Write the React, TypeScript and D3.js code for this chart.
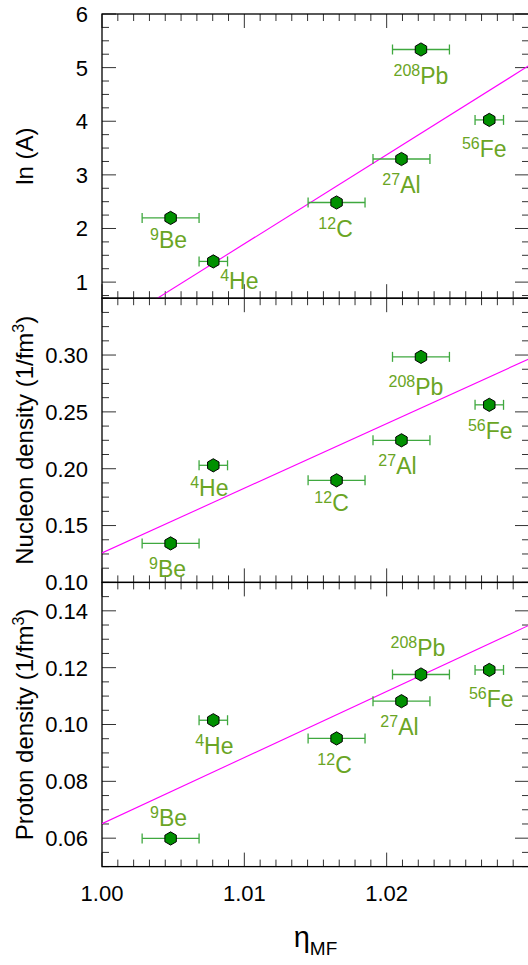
import React from "react";
import * as d3 from "d3";

// ---------- data ----------
const massNumbers = [4, 9, 12, 27, 56, 208];
const symbols = ["He", "Be", "C", "Al", "Fe", "Pb"];
const etaMF = [1.00782, 1.00482, 1.01648, 1.02104, 1.02721, 1.02241];
const etaErr = [0.001, 0.002, 0.002, 0.002, 0.001, 0.002];
const lnA = [1.386, 2.197, 2.485, 3.296, 4.025, 5.338];
const nucleonDensity = [0.203, 0.1343, 0.1898, 0.225, 0.2562, 0.2984];
const protonDensity = [0.1015, 0.0599, 0.0951, 0.1082, 0.1192, 0.1176];
const fitIntercepts = [0.052, 0.1259, 0.0651];
const fitSlopes = [166.2, 5.69, 2.327];

const xDomain: [number, number] = [1.0, 1.03];
const xMajorTicks = [1.0, 1.01, 1.02];
const xTickLabels = ["1.00", "1.01", "1.02"];

const yDomains: [number, number][] = [
  [0.7, 6],
  [0.1, 0.35],
  [0.05, 0.15],
];
const yMajorTicks = [
  [1, 2, 3, 4, 5, 6],
  [0.1, 0.15, 0.2, 0.25, 0.3],
  [0.06, 0.08, 0.1, 0.12, 0.14],
];
const yTickLabels = [
  ["1", "2", "3", "4", "5", "6"],
  ["0.10", "0.15", "0.20", "0.25", "0.30"],
  ["0.06", "0.08", "0.10", "0.12", "0.14"],
];
const yMinorSteps = [0.25, 0.0125, 0.005];
const yTitles = ["ln (A)", "Nucleon density (1/fm", "Proton density (1/fm"];
const yTitleSup = ["", "3", "3"];

// ---------- layout (label offsets in px relative to the marker) ----------
const labelDx = [
  [26, -2, -1, 0, -5, 0],
  [-4, -3, -5, -4, 1, -5],
  [1, -2, -2, -2, 2, -3],
];
const labelDy = [
  [28, 30, 35, 34, 37, 35],
  [31, 34, 31, 34, 34, 38],
  [34, -12, 35, 34, 37, -18],
];

const W = 528;
const H = 965;
const LEFT = 102;
const RIGHT = 529;
const PANEL_TOPS = [14, 298.2, 582.4];
const PANEL_H = 284.2;
const FONT = "'Liberation Sans', Arial, Helvetica, sans-serif";
const LABEL_COLOR = "#6aa524";
const ERR_COLOR = "#3fa83f";
const MARKER_FILL = "#009000";
const FIT_COLOR = "#ff00ff";
const TICK_COLOR = "#333";

const panelValues = [lnA, nucleonDensity, protonDensity];

function hexPath(cx: number, cy: number, r: number) {
  const pts: [number, number][] = [];
  for (let i = 0; i < 6; i++) {
    const a = -Math.PI / 2 + (i * Math.PI) / 3;
    pts.push([cx + r * Math.cos(a), cy + r * Math.sin(a)]);
  }
  return d3.line()(pts.concat([pts[0]])) + "Z";
}

function Panel({ idx, x }: { idx: number; x: d3.ScaleLinear<number, number> }) {
  const top = PANEL_TOPS[idx];
  const bottom = top + PANEL_H;
  const y = d3.scaleLinear().domain(yDomains[idx]).range([bottom, top]);
  const vals = panelValues[idx];
  const [y0, y1] = yDomains[idx];
  const minorStep = yMinorSteps[idx];
  const yMinor: number[] = [];
  for (let v = Math.ceil(y0 / minorStep - 1e-9) * minorStep; v <= y1 + 1e-9; v += minorStep) {
    const vv = Math.round(v / minorStep) * minorStep;
    if (!yMajorTicks[idx].some((m) => Math.abs(m - vv) < 1e-9)) yMinor.push(vv);
  }
  const xMinorStep = 0.01 / 9;
  const xMinor: number[] = [];
  for (let k = 0; k <= 27; k++) {
    if (k % 9 !== 0) xMinor.push(1.0 + k * xMinorStep);
  }
  const clipId = `clip${idx}`;
  const fx0 = xDomain[0];
  const fx1 = xDomain[1];
  const fitY = (e: number) => fitIntercepts[idx] + fitSlopes[idx] * (e - 1);
  const MAJ = 14;
  const MIN = 7;
  const midY = (top + bottom) / 2;

  return (
    <g>
      <defs>
        <clipPath id={clipId}>
          <rect x={LEFT} y={top} width={RIGHT - LEFT} height={PANEL_H} />
        </clipPath>
      </defs>
      {/* ticks */}
      <g stroke={TICK_COLOR} strokeWidth={1}>
        {yMajorTicks[idx].map((v, i) => (
          <g key={"ym" + i}>
            <line x1={LEFT} x2={LEFT + MAJ} y1={y(v)} y2={y(v)} />
            <line x1={RIGHT} x2={RIGHT - MAJ} y1={y(v)} y2={y(v)} />
          </g>
        ))}
        {yMinor.map((v, i) => (
          <g key={"yn" + i}>
            <line x1={LEFT} x2={LEFT + MIN} y1={y(v)} y2={y(v)} />
            <line x1={RIGHT} x2={RIGHT - MIN} y1={y(v)} y2={y(v)} />
          </g>
        ))}
        {xMajorTicks.map((v, i) => (
          <g key={"xm" + i}>
            <line x1={x(v)} x2={x(v)} y1={top} y2={top + MAJ} />
            <line x1={x(v)} x2={x(v)} y1={bottom} y2={bottom - MAJ} />
          </g>
        ))}
        {xMinor.map((v, i) => (
          <g key={"xn" + i}>
            <line x1={x(v)} x2={x(v)} y1={top} y2={top + MIN} />
            <line x1={x(v)} x2={x(v)} y1={bottom} y2={bottom - MIN} />
          </g>
        ))}
      </g>
      {/* frame */}
      <rect x={LEFT} y={top} width={RIGHT - LEFT} height={PANEL_H} fill="none" stroke="#000" strokeWidth={1.3} />
      {/* y tick labels */}
      {yMajorTicks[idx].map((v, i) => (
        <text
          key={"yl" + i}
          x={LEFT - 14}
          y={y(v)}
          dy="0.36em"
          textAnchor="end"
          fontSize={22}
          fontFamily={FONT}
          fill="#000"
        >
          {yTickLabels[idx][i]}
        </text>
      ))}
      {/* y title */}
      <text
        transform={`translate(24,${midY}) rotate(-90)`}
        textAnchor="middle"
        dy="0.36em"
        fontSize={24}
        fontFamily={FONT}
        fill="#000"
      >
        {yTitles[idx]}
        {yTitleSup[idx] ? (
          <>
            <tspan fontSize={16} dy={-9}>
              {yTitleSup[idx]}
            </tspan>
            <tspan dy={9}>)</tspan>
          </>
        ) : null}
      </text>
      {/* fit line */}
      <g clipPath={`url(#${clipId})`}>
        <line x1={x(fx0)} y1={y(fitY(fx0))} x2={x(fx1)} y2={y(fitY(fx1))} stroke={FIT_COLOR} strokeWidth={1.1} />
      </g>
      {/* error bars + markers */}
      {etaMF.map((e, i) => {
        const py = y(vals[i]);
        const xl = x(e - etaErr[i]);
        const xr = x(e + etaErr[i]);
        return (
          <g key={"pt" + i}>
            <g stroke={ERR_COLOR} strokeWidth={1.3}>
              <line x1={xl} x2={xr} y1={py} y2={py} />
              <line x1={xl} x2={xl} y1={py - 5} y2={py + 5} />
              <line x1={xr} x2={xr} y1={py - 5} y2={py + 5} />
            </g>
            <path d={hexPath(x(e), py, 6.6)} fill={MARKER_FILL} stroke="#000" strokeWidth={1} />
          </g>
        );
      })}
      {/* labels */}
      {etaMF.map((e, i) => (
        <text
          key={"lb" + i}
          x={x(e) + labelDx[idx][i]}
          y={y(vals[i]) + labelDy[idx][i]}
          textAnchor="middle"
          fontFamily={FONT}
          fill={LABEL_COLOR}
          fontSize={23}
        >
          <tspan fontSize={16} dy={-8}>
            {massNumbers[i]}
          </tspan>
          <tspan dy={8}>{symbols[i]}</tspan>
        </text>
      ))}
    </g>
  );
}

export default function App() {
  const x = d3.scaleLinear().domain(xDomain).range([LEFT, RIGHT]);
  const bottom = PANEL_TOPS[2] + PANEL_H;
  return (
    <svg
      width={W}
      height={H}
      viewBox={`0 0 ${W} ${H}`}
      style={{ position: "absolute", left: 0, top: 0, background: "#fff" }}
    >
      <rect x={0} y={0} width={W} height={H} fill="#fff" />
      {[0, 1, 2].map((i) => (
        <Panel key={i} idx={i} x={x} />
      ))}
      {xMajorTicks.map((v, i) => (
        <text
          key={"xl" + i}
          x={x(v)}
          y={bottom + 34}
          textAnchor="middle"
          fontSize={22}
          fontFamily={FONT}
          fill="#000"
        >
          {xTickLabels[i]}
        </text>
      ))}
      <text x={(LEFT + RIGHT) / 2} y={947} textAnchor="middle" fontFamily={FONT} fill="#000" fontSize={29}>
        η
        <tspan fontSize={19} dy={8}>
          MF
        </tspan>
      </text>
    </svg>
  );
}
